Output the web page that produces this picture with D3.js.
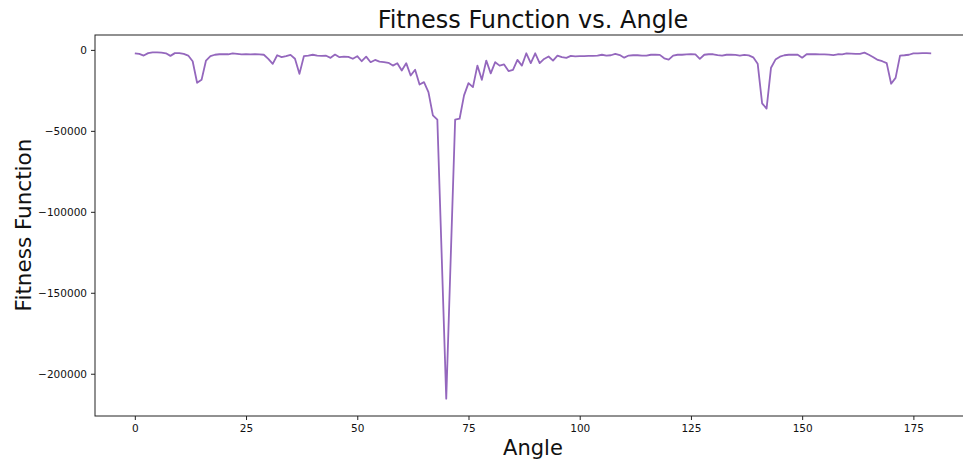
<!DOCTYPE html>
<html>
<head>
<meta charset="utf-8">
<script src="https://cdn.jsdelivr.net/npm/d3@7"></script>
<style>
  body { margin: 0; background: #fff; }
  svg text { font-family: "DejaVu Sans", sans-serif; fill: #111; }
</style>
</head>
<body>
<svg id="chart" width="963" height="461"></svg>
<script>
// Fitness value evaluated at each integer angle 0..179
const fitness = [
  -2100, -2500, -3500, -2000, -1500, -1500, -1700, -2100, -3700, -2000,
  -2000, -2500, -3500, -7000, -20300, -18500, -6600, -3900, -3000, -2700,
  -2700, -2700, -2200, -2400, -2800, -2700, -2800, -2700, -2800, -3000,
  -5500, -8600, -3300, -4500, -3900, -3100, -5500, -14800, -3900, -3500,
  -3000, -3500, -3700, -3600, -4900, -2900, -4500, -4200, -4300, -5500,
  -3900, -7000, -4200, -7600, -6200, -7300, -7500, -8000, -9700, -8200,
  -12700, -8200, -15800, -12300, -21400, -19900, -26100, -40400, -43100, -129000,
  -215400, -129000, -43100, -42500, -28100, -20500, -23000, -9700, -18500, -6600,
  -14500, -7600, -9700, -9000, -13100, -12300, -6200, -9700, -2100, -8200,
  -2100, -8200, -5600, -4100, -6600, -3500, -4500, -4900, -3700, -4000,
  -3900, -3800, -3700, -3700, -3600, -3000, -3500, -3300, -2400, -3200,
  -4800, -3500, -3300, -3300, -3500, -3600, -3000, -3000, -3100, -5200,
  -6000, -3500, -3000, -3000, -2800, -2700, -2800, -5500, -3000, -2700,
  -2700, -3200, -3500, -3000, -3000, -3100, -3500, -3100, -3400, -4600,
  -8500, -33000, -36300, -11000, -6000, -4200, -3300, -3000, -3000, -3000,
  -4800, -2700, -2700, -2700, -2800, -2800, -2900, -3200, -2700, -2800,
  -2200, -2300, -2500, -2400, -1700, -3000, -4500, -6200, -7000, -8200,
  -20900, -17300, -3500, -3300, -3000, -2100, -2100, -2000, -2000, -2100
];
const angles = fitness.map((_, i) => i);
const xTickValues = [0, 25, 50, 75, 100, 125, 150, 175];
const yTickValues = [0, -50000, -100000, -150000, -200000];

const titleText = "Fitness Function vs. Angle";
const xLabelText = "Angle";
const yLabelText = "Fitness Function";

const svg = d3.select("#chart");
const plot = { left: 95, right: 971, top: 35, bottom: 416 };

// axis limits padded by 5% of the data span on each side
const pad = (lo, hi) => { const m = (hi - lo) * 0.05; return [lo - m, hi + m]; };
const [xMin, xMax] = pad(d3.min(angles), d3.max(angles));
const [yMin, yMax] = pad(d3.min(fitness), d3.max(fitness));

const x = d3.scaleLinear().domain([xMin, xMax]).range([plot.left, plot.right]);
const y = d3.scaleLinear().domain([yMin, yMax]).range([plot.bottom, plot.top]);

// data line
const line = d3.line()
  .x((d, i) => x(angles[i]))
  .y(d => y(d));

svg.append("path")
  .datum(fitness)
  .attr("fill", "none")
  .attr("stroke", "#9467bd")
  .attr("stroke-width", 1.8)
  .attr("stroke-linejoin", "round")
  .attr("d", line);

// frame
svg.append("rect")
  .attr("x", plot.left)
  .attr("y", plot.top)
  .attr("width", plot.right - plot.left)
  .attr("height", plot.bottom - plot.top)
  .attr("fill", "none")
  .attr("stroke", "#222")
  .attr("stroke-width", 1);

// axes
const xAxis = d3.axisBottom(x).tickValues(xTickValues).tickSize(4).tickPadding(5)
  .tickFormat(d3.format("d"));
const yAxis = d3.axisLeft(y).tickValues(yTickValues).tickSize(4).tickPadding(4)
  .tickFormat(d3.format("d"));

const gx = svg.append("g").attr("transform", `translate(0,${plot.bottom})`).call(xAxis);
const gy = svg.append("g").attr("transform", `translate(${plot.left},0)`).call(yAxis);
[gx, gy].forEach(g => {
  g.select(".domain").remove();
  g.selectAll(".tick line").attr("stroke", "#222");
  g.selectAll(".tick text").attr("font-size", 10.5).attr("fill", "#111")
    .attr("font-family", "DejaVu Sans, sans-serif");
});

// labels
svg.append("text")
  .attr("x", (plot.left + plot.right) / 2)
  .attr("y", 28)
  .attr("text-anchor", "middle")
  .attr("font-size", 24)
  .text(titleText);

svg.append("text")
  .attr("x", (plot.left + plot.right) / 2)
  .attr("y", 455)
  .attr("text-anchor", "middle")
  .attr("font-size", 21)
  .text(xLabelText);

svg.append("text")
  .attr("transform", `translate(31,225) rotate(-90)`)
  .attr("text-anchor", "middle")
  .attr("font-size", 21.5)
  .text(yLabelText);
</script>
</body>
</html>
